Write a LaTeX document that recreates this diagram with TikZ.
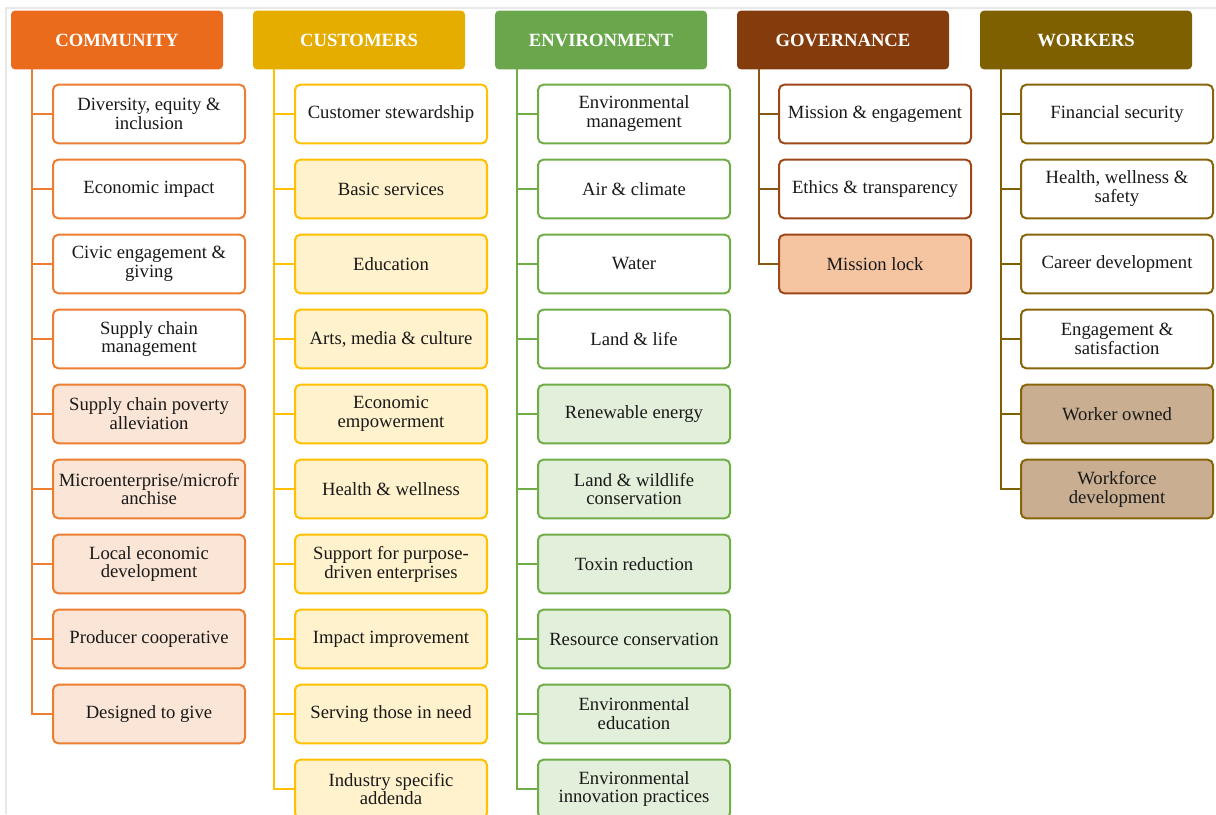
\documentclass[tikz,border=0pt]{standalone}
\usepackage{fontspec}
\setmainfont{Liberation Serif}
\begin{document}
\begin{tikzpicture}[x=0.75pt,y=0.75pt,yscale=-1,xscale=1,
  hdr/.style={rounded corners=3pt, minimum width=159pt, minimum height=44pt, inner sep=0pt, text=white, font=\fontsize{14}{15}\selectfont\bfseries},
  item/.style={rounded corners=4pt, line width=1.5pt, minimum width=144pt, minimum height=44pt, inner sep=1pt, align=center, text={rgb, 255:red, 25; green, 25; blue, 25 }, font=\fontsize{14}{14.2}\selectfont},
  commbox/.style={item, draw={rgb, 255:red, 237; green, 125; blue, 49 }, fill=white},
  commfill/.style={commbox, fill={rgb, 255:red, 250; green, 229; blue, 214 }},
  commline/.style={draw={rgb, 255:red, 237; green, 125; blue, 49 }, line width=1.5pt},
  custbox/.style={item, draw={rgb, 255:red, 255; green, 192; blue, 0 }, fill=white},
  custfill/.style={custbox, fill={rgb, 255:red, 255; green, 242; blue, 204 }},
  custline/.style={draw={rgb, 255:red, 255; green, 192; blue, 0 }, line width=1.5pt},
  envbox/.style={item, draw={rgb, 255:red, 112; green, 173; blue, 71 }, fill=white},
  envfill/.style={envbox, fill={rgb, 255:red, 226; green, 239; blue, 218 }},
  envline/.style={draw={rgb, 255:red, 112; green, 173; blue, 71 }, line width=1.5pt},
  govbox/.style={item, draw={rgb, 255:red, 158; green, 72; blue, 26 }, fill=white},
  govfill/.style={govbox, fill={rgb, 255:red, 245; green, 197; blue, 162 }},
  govline/.style={draw={rgb, 255:red, 135; green, 88; blue, 20 }, line width=1.5pt},
  workbox/.style={item, draw={rgb, 255:red, 135; green, 101; blue, 10 }, fill=white},
  workfill/.style={workbox, fill={rgb, 255:red, 201; green, 174; blue, 145 }},
  workline/.style={draw={rgb, 255:red, 127; green, 96; blue, 0 }, line width=1.5pt}]
\useasboundingbox (0,0) rectangle (1216,814);
\clip (0,0) rectangle (1216,814);

%Frame
\draw [color={rgb, 255:red, 232; green, 232; blue, 232 }, line width=1.5pt] (6,814) -- (6,8) -- (1216,8) ;

% Headers
\node [hdr, fill={rgb, 255:red, 233; green, 107; blue, 27 }] (comm) at (117,40) {COMMUNITY};
\node [hdr, fill={rgb, 255:red, 229; green, 173; blue, 0 }] (cust) at (359,40) {CUSTOMERS};
\node [hdr, fill={rgb, 255:red, 106; green, 166; blue, 76 }] (env) at (601,40) {ENVIRONMENT};
\node [hdr, fill={rgb, 255:red, 132; green, 60; blue, 12 }] (gov) at (843,40) {GOVERNANCE};
\node [hdr, fill={rgb, 255:red, 127; green, 96; blue, 0 }] (work) at (1086,40) {WORKERS};

% Trunk tops
\coordinate (comm-top) at (32,69);
\coordinate (cust-top) at (274,69);
\coordinate (env-top) at (517,69);
\coordinate (gov-top) at (759,69);
\coordinate (work-top) at (1001,69);

% Community
\node [commbox] (c1) at (149,114) {Diversity, equity \&\\inclusion};
\node [commbox] (c2) at (149,189) {Economic impact};
\node [commbox] (c3) at (149,264) {Civic engagement \&\\giving};
\node [commbox] (c4) at (149,339) {Supply chain\\management};
\node [commfill] (c5) at (149,414) {Supply chain poverty\\alleviation};
\node [commfill] (c6) at (149,489) {Microenterprise/microfr\\anchise};
\node [commfill] (c7) at (149,564) {Local economic\\development};
\node [commfill] (c8) at (149,639) {Producer cooperative};
\node [commfill] (c9) at (149,714) {Designed to give};

% Customers
\node [custbox] (u1) at (391,114) {Customer stewardship};
\node [custfill] (u2) at (391,189) {Basic services};
\node [custfill] (u3) at (391,264) {Education};
\node [custfill] (u4) at (391,339) {Arts, media \& culture};
\node [custfill] (u5) at (391,414) {Economic\\empowerment};
\node [custfill] (u6) at (391,489) {Health \& wellness};
\node [custfill] (u7) at (391,564) {Support for purpose-\\driven enterprises};
\node [custfill] (u8) at (391,639) {Impact improvement};
\node [custfill] (u9) at (391,714) {Serving those in need};
\node [custfill] (u10) at (391,789) {Industry specific\\addenda};

% Environment
\node [envbox] (e1) at (634,114) {Environmental\\management};
\node [envbox] (e2) at (634,189) {Air \& climate};
\node [envbox] (e3) at (634,264) {Water};
\node [envbox] (e4) at (634,339) {Land \& life};
\node [envfill] (e5) at (634,414) {Renewable energy};
\node [envfill] (e6) at (634,489) {Land \& wildlife\\conservation};
\node [envfill] (e7) at (634,564) {Toxin reduction};
\node [envfill] (e8) at (634,639) {Resource conservation};
\node [envfill] (e9) at (634,714) {Environmental\\education};
\node [envfill] (e10) at (634,789) {Environmental\\innovation practices};

% Governance
\node [govbox] (g1) at (875,114) {Mission \& engagement};
\node [govbox] (g2) at (875,189) {Ethics \& transparency};
\node [govfill] (g3) at (875,264) {Mission lock};

% Workers
\node [workbox] (w1) at (1117,114) {Financial security};
\node [workbox] (w2) at (1117,189) {Health, wellness \&\\safety};
\node [workbox] (w3) at (1117,264) {Career development};
\node [workbox] (w4) at (1117,339) {Engagement \&\\satisfaction};
\node [workfill] (w5) at (1117,414) {Worker owned};
\node [workfill] (w6) at (1117,489) {Workforce\\development};

%Straight Lines
\draw [commline] (comm-top) |- (c1.west) (comm-top) |- (c2.west) (comm-top) |- (c3.west)
  (comm-top) |- (c4.west) (comm-top) |- (c5.west) (comm-top) |- (c6.west)
  (comm-top) |- (c7.west) (comm-top) |- (c8.west) (comm-top) |- (c9.west) ;
\draw [custline] (cust-top) |- (u1.west) (cust-top) |- (u2.west) (cust-top) |- (u3.west)
  (cust-top) |- (u4.west) (cust-top) |- (u5.west) (cust-top) |- (u6.west)
  (cust-top) |- (u7.west) (cust-top) |- (u8.west) (cust-top) |- (u9.west) (cust-top) |- (u10.west) ;
\draw [envline] (env-top) |- (e1.west) (env-top) |- (e2.west) (env-top) |- (e3.west)
  (env-top) |- (e4.west) (env-top) |- (e5.west) (env-top) |- (e6.west)
  (env-top) |- (e7.west) (env-top) |- (e8.west) (env-top) |- (e9.west) (env-top) |- (e10.west) ;
\draw [govline] (gov-top) |- (g1.west) (gov-top) |- (g2.west) (gov-top) |- (g3.west) ;
\draw [workline] (work-top) |- (w1.west) (work-top) |- (w2.west) (work-top) |- (w3.west)
  (work-top) |- (w4.west) (work-top) |- (w5.west) (work-top) |- (w6.west) ;

\end{tikzpicture}
\end{document}
